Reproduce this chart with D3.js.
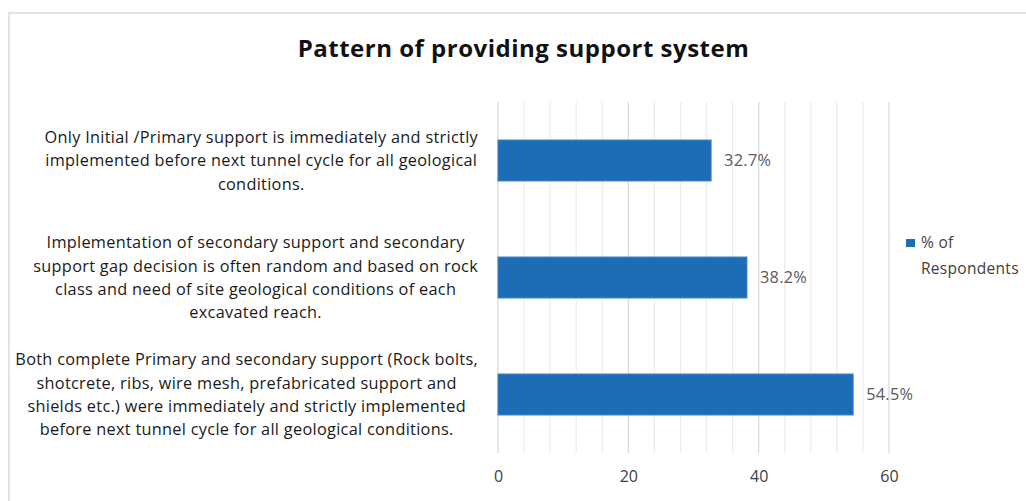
<!DOCTYPE html>
<html>
<head>
<meta charset="utf-8">
<script src="https://cdn.jsdelivr.net/npm/d3@7"></script>
<style>
  html, body { margin: 0; padding: 0; background: #fff; }
  svg { display: block; font-family: "Open Sans", Lato, sans-serif; }
</style>
</head>
<body>
<svg id="chart" width="1026" height="501"></svg>
<script>
// Survey answers, top to bottom, with the wrapped label lines
const categories = [
  ["Only Initial /Primary support is immediately and strictly",
   "implemented before next tunnel cycle for all geological",
   "conditions."],
  ["Implementation of secondary support and secondary",
   "support gap decision is often random and based on rock",
   "class and need of site geological conditions of each",
   "excavated reach."],
  ["Both complete Primary and secondary support (Rock bolts,",
   "shotcrete, ribs, wire mesh, prefabricated support and",
   "shields etc.) were immediately and strictly implemented",
   "before next tunnel cycle for all geological conditions."]
];
const values = [32.7, 38.2, 54.5];
const tickValues = [0, 20, 40, 60];
const seriesName = ["% of", "Respondents"];
const chartTitle = "Pattern of providing support system";

const svg = d3.select("#chart");
const blue = "#1c6db6";

// chart frame
svg.append("rect")
  .attr("x", 9).attr("y", 13)
  .attr("width", 1040).attr("height", 520)
  .attr("fill", "#fff")
  .attr("stroke", "#dcdcdc")
  .attr("stroke-width", 1.5);

svg.append("text")
  .attr("x", 523.5).attr("y", 57)
  .attr("text-anchor", "middle")
  .attr("font-size", 24)
  .attr("font-weight", 700)
  .attr("letter-spacing", 0.5)
  .attr("fill", "#111")
  .text(chartTitle);

const x = d3.scaleLinear().domain([0, 60]).range([498, 889]);
const ids = categories.map((c, i) => i);
const y = d3.scaleBand().domain(ids).range([102, 453])
  .paddingInner(0.65).paddingOuter(0.325);

// vertical gridlines: minor every 4, major every 20
const grid = svg.append("g");
grid.selectAll("line")
  .data(d3.range(0, 61, 4))
  .join("line")
  .attr("x1", d => x(d)).attr("x2", d => x(d))
  .attr("y1", 102).attr("y2", 453)
  .attr("stroke", d => d % 20 === 0 ? "#d9d9d9" : "#ececec")
  .attr("stroke-width", 1.2);

// bars
svg.append("g").selectAll("rect")
  .data(values)
  .join("rect")
  .attr("x", x(0))
  .attr("y", (d, i) => y(i))
  .attr("width", d => x(d) - x(0))
  .attr("height", y.bandwidth())
  .attr("fill", blue)
  .attr("stroke", "#3d82c4")
  .attr("stroke-width", 1);

// value labels
svg.append("g").selectAll("text")
  .data(values)
  .join("text")
  .attr("x", d => x(d) + 13)
  .attr("y", (d, i) => y(i) + y.bandwidth() / 2)
  .attr("dy", "0.35em")
  .attr("font-size", 16.3)
  .attr("letter-spacing", 0.3)
  .attr("fill", "#595959")
  .text(d => d.toFixed(1) + "%");

// category labels, each block centred so its widest line ends near the axis
const lineH = 23.3;
const labelG = svg.append("g");
categories.forEach((lines, i) => {
  const cy = y(i) + y.bandwidth() / 2;
  const t = labelG.append("text")
    .attr("text-anchor", "middle")
    .attr("font-size", 16.3)
    .attr("letter-spacing", 0.3)
    .attr("fill", "#1a1a1a");
  const tsp = t.selectAll("tspan").data(lines).join("tspan")
    .attr("y", (d, k) => cy + (k - (lines.length - 1) / 2) * lineH)
    .attr("dy", "0.35em")
    .text(d => d);
  let w = 0;
  tsp.each(function () { w = Math.max(w, this.getComputedTextLength()); });
  tsp.attr("x", 478 - w / 2);
});

// x axis
const axis = svg.append("g")
  .attr("transform", "translate(0,470)")
  .call(d3.axisBottom(x).tickValues(tickValues).tickSize(0).tickPadding(0));
axis.select(".domain").remove();
axis.selectAll("text")
  .attr("font-family", "'Open Sans', Lato, sans-serif")
  .attr("font-size", 16)
  .attr("fill", "#404040")
  .attr("dy", "0.75em");

// legend
const leg = svg.append("g");
leg.append("rect")
  .attr("x", 906).attr("y", 239)
  .attr("width", 9).attr("height", 8)
  .attr("fill", blue);
leg.selectAll("text")
  .data(seriesName)
  .join("text")
  .attr("x", 921)
  .attr("y", (d, k) => 243 + k * 26)
  .attr("dy", "0.35em")
  .attr("font-size", 15.5)
  .attr("letter-spacing", 0.3)
  .attr("fill", "#404040")
  .text(d => d);
</script>
</body>
</html>
